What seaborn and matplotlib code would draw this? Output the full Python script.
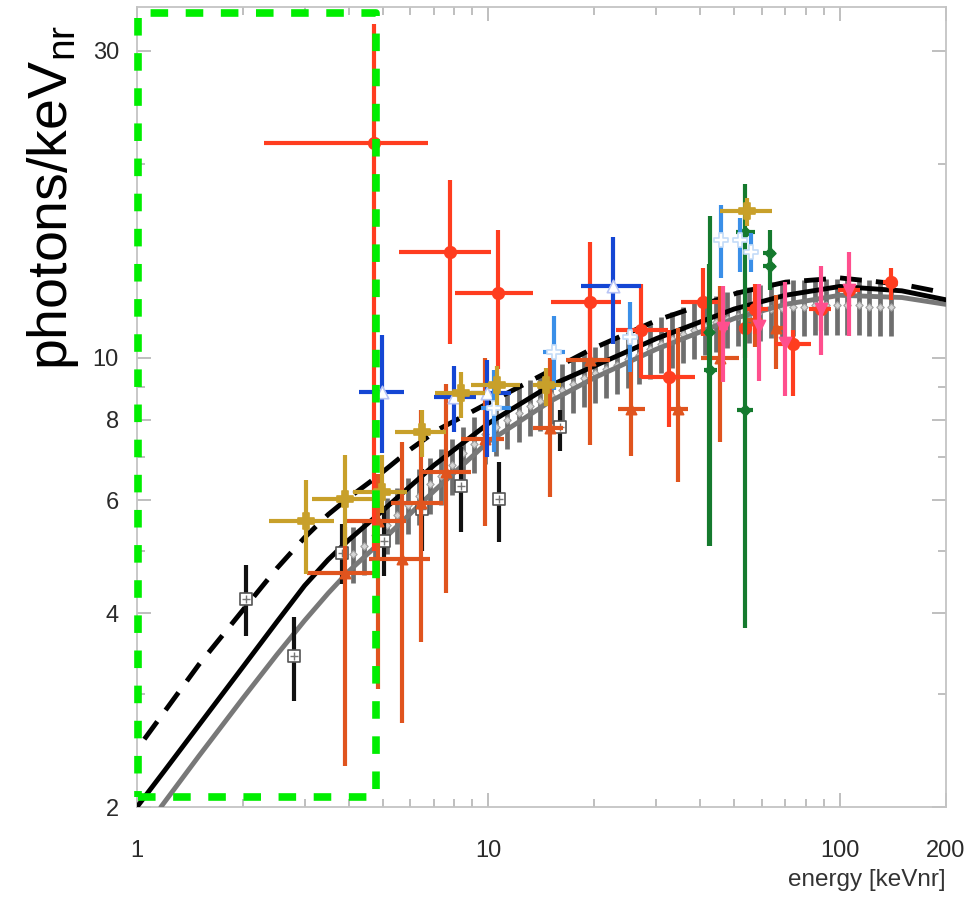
import numpy as np
import pandas as pd
import matplotlib
matplotlib.use("Agg")
import matplotlib.pyplot as plt
import seaborn as sns
from matplotlib.ticker import FixedLocator, FixedFormatter, NullFormatter

sns.set_theme(style="white")
plt.rcParams['font.family'] = ['Liberation Sans', 'DejaVu Sans']
plt.rcParams['mathtext.default'] = 'regular'

# model curves (energy, photons/keV)
solid_x = [1.0, 1.2, 1.5, 2.0, 2.5, 3.0, 3.5, 4.0, 5.0, 7.0, 10, 15, 20, 30, 50, 70, 100, 150, 200]
solid_y = [2.0, 2.28, 2.68, 3.3, 3.88, 4.42, 4.85, 5.2, 5.78, 6.8, 7.9, 9.05, 9.7, 10.7, 11.9, 12.5, 12.9, 12.7, 12.3]
dashed_x = [1.05, 1.5, 2.04, 2.5, 3.0, 3.5, 4.0, 4.77, 6.0, 7.2, 10, 12.7, 19.6, 30.4, 51, 70, 100, 150, 200]
dashed_y = [2.55, 3.33, 4.1, 4.7, 5.25, 5.7, 6.05, 6.5, 7.2, 7.73, 8.5, 9.1, 10.3, 11.45, 12.6, 13.1, 13.3, 13.0, 12.6]
grey_x = [1.17, 1.5, 2.0, 2.5, 3.0, 3.5, 4.0, 5.0, 7.0, 10, 15, 20, 30, 50, 70, 100, 150, 200]
grey_y = [2.0, 2.4, 2.95, 3.45, 3.9, 4.3, 4.65, 5.2, 6.2, 7.4, 8.55, 9.3, 10.3, 11.5, 12.1, 12.5, 12.4, 12.1]

# simulated band (grey comb)
band_x = [4.13, 4.44, 4.77, 5.13, 5.51, 5.92, 6.36, 6.84, 7.35, 7.90,
          8.49, 9.12, 9.80, 10.5, 11.3, 12.2, 13.1, 14.0, 15.1, 16.2,
          17.4, 18.7, 20.1, 21.6, 23.2, 25.0, 26.8, 28.8, 31.0, 33.3,
          35.8, 38.4, 41.3, 44.4, 47.7, 51.2, 55.0, 59.2, 63.6, 68.3,
          73.4, 78.9, 84.8, 91.1, 97.9, 105, 113, 121, 130, 140]
band_y = [4.95, 5.1, 5.3, 5.5, 5.7, 5.9, 6.1, 6.35, 6.55, 6.8,
          7.1, 7.35, 7.6, 7.8, 8.0, 8.2, 8.4, 8.55, 8.75, 8.9,
          9.1, 9.3, 9.45, 9.6, 9.75, 9.95, 10.1, 10.3, 10.5, 10.7,
          10.9, 11.05, 11.2, 11.35, 11.5, 11.6, 11.7, 11.8, 11.9, 11.95,
          12.0, 12.0, 12.05, 12.05, 12.05, 12.05, 12.05, 12.0, 12.0, 12.0]
band_rel_err = 0.10

# measurements: (x, y, x_lo, x_hi, y_lo, y_hi)
red_pts = [
    (4.74, 21.6, 2.3, 6.75, 5.0, 33.0),
    (7.8, 14.6, 5.55, 10.2, 10.5, 18.9),
    (10.66, 12.6, 8.05, 13.4, 9.6, 15.8),
    (19.5, 12.2, 15.1, 23.9, 10.0, 15.1),
    (27.1, 11.05, 23.1, 32.5, 9.3, 13.0),
    (32.7, 9.34, 27.1, 38.7, 7.8, 11.05),
    (40.8, 12.2, 35.3, 45.0, 10.8, 13.8),
    (53.7, 11.1, 51.5, 56.0, 10.0, 12.0),
    (57.5, 11.9, 53.7, 62.3, 10.9, 13.0),
    (73.5, 10.5, 65.4, 82.6, 8.7, 11.05),
    (88.5, 11.9, 81.5, 94.5, 11.0, 12.8),
    (106, 12.75, 99, 114, 12.0, 13.5),
    (139.6, 13.1, 133, 145, 12.3, 13.8),
]
orange_pts = [
    (3.9, 4.63, 3.04, 4.86, 2.32, 5.45),
    (4.85, 5.56, 3.95, 5.84, 3.05, 6.6),
    (5.66, 4.86, 4.56, 6.83, 2.7, 7.38),
    (6.42, 5.95, 5.27, 7.44, 3.61, 8.3),
    (7.55, 6.65, 6.42, 8.9, 4.3, 9.1),
    (9.76, 7.46, 8.35, 11.1, 5.47, 10.0),
    (15.0, 7.78, 13.4, 16.3, 6.06, 10.0),
    (19.5, 9.93, 16.6, 22.2, 7.3, 12.2),
    (25.5, 8.33, 23.4, 27.9, 7.02, 9.93),
    (34.6, 8.33, 32.5, 36.9, 6.4, 11.1),
    (45.6, 10.0, 40.2, 51.5, 7.4, 12.9),
    (57.3, 11.45, 54.5, 60.0, 10.4, 12.4),
    (65.7, 11.1, 64.5, 69.0, 9.6, 12.5),
]
blue_pts = [
    (4.97, 8.85, 4.27, 5.74, 7.1, 10.85),
    (7.96, 8.67, 7.0, 9.2, 7.65, 9.7),
    (9.93, 8.82, 8.95, 11.6, 7.0, 9.93),
    (22.6, 12.9, 18.3, 27.1, 10.5, 15.4),
]
lightblue_pts = [
    (10.34, 8.36, 9.5, 11.6, 7.12, 9.58),
    (15.37, 10.2, 14.3, 16.5, 8.9, 11.6),
    (25.3, 10.78, 24.5, 26.1, 9.48, 12.2),
    (45.9, 15.26, 45.0, 46.8, 13.3, 17.3),
    (52.0, 15.26, 51.0, 53.0, 13.6, 16.5),
    (55.9, 14.6, 55.0, 56.8, 13.6, 15.6),
]
gold_pts = [
    (3.02, 5.56, 2.37, 3.63, 4.6, 6.46),
    (3.9, 6.02, 3.14, 4.65, 5.1, 7.06),
    (4.97, 6.19, 4.13, 5.85, 5.74, 7.06),
    (6.46, 7.65, 5.44, 7.55, 7.0, 8.3),
    (8.37, 8.82, 7.07, 9.8, 8.06, 9.5),
    (10.6, 9.08, 8.95, 12.3, 8.45, 9.7),
    (14.6, 9.08, 13.4, 16.1, 8.4, 9.65),
    (54.3, 16.9, 45.6, 64.1, 16.0, 17.7),
]
black_pts = [
    (2.04, 4.22, 1.98, 2.1, 3.69, 4.76),
    (2.79, 3.43, 2.79, 2.79, 2.92, 3.95),
    (3.82, 4.96, 3.82, 3.82, 4.44, 5.51),
    (5.03, 5.18, 5.03, 5.03, 4.57, 5.85),
    (6.46, 5.81, 6.46, 6.46, 5.0, 6.7),
    (8.34, 6.31, 8.34, 8.34, 5.35, 7.25),
    (10.7, 6.02, 10.7, 10.7, 5.16, 6.87),
    (16.0, 7.81, 16.0, 16.0, 7.15, 8.3),
]
green_pts = [
    (42.8, 9.55, 41.0, 44.6, 5.1, 16.6),
    (42.5, 10.97, 41.5, 43.6, 5.1, 14.0),
    (53.7, 8.3, 51.0, 56.5, 3.8, 12.0),
    (53.7, 15.7, 50.7, 57.2, 11.0, 18.6),
    (63.1, 14.55, 60.5, 65.5, 13.6, 15.8),
    (63.1, 13.9, 60.5, 65.5, 12.75, 14.8),
]
pink_pts = [
    (46.5, 11.1, 45.3, 48.0, 9.15, 12.9),
    (59.0, 11.2, 58.0, 60.0, 9.2, 13.0),
    (69.6, 10.55, 68.5, 70.8, 8.7, 13.1),
    (88.5, 11.9, 86.5, 90.5, 10.1, 13.9),
    (106, 12.75, 104, 108, 10.8, 14.6),
]

# region of interest box
roi_x = [1.01, 4.8]
roi_y = [2.07, 34.3]

cols = ['x', 'y', 'xlo', 'xhi', 'ylo', 'yhi']


def draw_points(ax, pts, color, marker, size, face, edge, z):
    df = pd.DataFrame(pts, columns=cols)
    ax.errorbar(df.x, df.y,
                xerr=[df.x - df.xlo, df.xhi - df.x],
                yerr=[df.y - df.ylo, df.yhi - df.y],
                fmt='none', ecolor=color, elinewidth=3, capsize=0, zorder=z)
    sns.scatterplot(data=df, x='x', y='y', marker=marker, s=size,
                    color=face, edgecolor=edge, linewidth=1.2,
                    ax=ax, zorder=z + 0.1, legend=False)
    return df


fig = plt.figure(figsize=(9.71, 9.0), dpi=100)
ax = fig.add_axes([0.141, 0.1033, 0.833, 0.889])
ax.set_xscale('log')
ax.set_yscale('log')

# grey simulated comb
band = pd.DataFrame({'x': band_x, 'y': band_y})
ax.errorbar(band.x, band.y, yerr=[band.y * band_rel_err, band.y * band_rel_err],
            fmt='none', ecolor='#6e6e6e', elinewidth=3.4, capsize=0, zorder=2)
sns.scatterplot(data=band, x='x', y='y', marker='D', s=14, color='#d4d4d4',
                edgecolor='#a0a0a0', linewidth=0.8, ax=ax, zorder=2.1, legend=False)

# model curves
sns.lineplot(x=grey_x, y=grey_y, ax=ax, color='#787878', lw=3.5, sort=False, zorder=3)
sns.lineplot(x=solid_x, y=solid_y, ax=ax, color='black', lw=3.5, sort=False, zorder=3.2)
l, = ax.plot(dashed_x, dashed_y, color='black', lw=3.5, zorder=3.3)
l.set_dashes((4.5, 2.9))

draw_points(ax, black_pts, '#111111', 's', 70, 'white', '#555555', 4)
bdf = pd.DataFrame(black_pts, columns=cols)
sns.scatterplot(data=bdf, x='x', y='y', marker='+', s=40, color='#777777',
                linewidth=1, ax=ax, zorder=4.2, legend=False)
draw_points(ax, orange_pts, '#e0541e', '^', 55, '#e0541e', '#e0541e', 4.5)
draw_points(ax, red_pts, '#ff3d1f', 'o', 70, '#ff3d1f', '#ff3d1f', 5)
draw_points(ax, green_pts, '#157a2e', 'D', 30, '#157a2e', '#157a2e', 5.2)
draw_points(ax, pink_pts, '#ff4f8e', 'v', 75, '#ff4f8e', '#ff4f8e', 5.4)
draw_points(ax, blue_pts, '#1446d4', '^', 80, 'white', '#b8c4f4', 5.6)
draw_points(ax, lightblue_pts, '#3a8fe8', 'P', 110, 'white', '#c4dcf8', 5.8)
draw_points(ax, gold_pts, '#c8a02a', 'P', 130, '#c8a02a', '#c8a02a', 6)

# green dashed box
box, = ax.plot([roi_x[0], roi_x[1], roi_x[1], roi_x[0], roi_x[0]],
               [roi_y[0], roi_y[0], roi_y[1], roi_y[1], roi_y[0]],
               color='#00ee00', lw=5.5, zorder=10, clip_on=False)
box.set_dashes((2.3, 2.3))

ax.set_xlim(1, 200)
ax.set_ylim(2, 35.1)

for s in ax.spines.values():
    s.set_color('#c4c4c4')
    s.set_linewidth(1.3)

ax.xaxis.set_major_locator(FixedLocator([1, 10, 100, 200]))
ax.xaxis.set_major_formatter(FixedFormatter(['1', '10', '100', '200']))
ax.xaxis.set_minor_locator(FixedLocator([2, 3, 4, 5, 6, 7, 8, 9, 20, 30, 40, 50, 60, 70, 80, 90]))
ax.xaxis.set_minor_formatter(NullFormatter())
ax.yaxis.set_major_locator(FixedLocator([2, 4, 6, 8, 10, 30]))
ax.yaxis.set_major_formatter(FixedFormatter(['2', '4', '6', '8', '10', '30']))
ax.yaxis.set_minor_locator(FixedLocator([3, 5, 7, 9, 20]))
ax.yaxis.set_minor_formatter(NullFormatter())

ax.tick_params(which='both', direction='in', top=True, right=True,
               bottom=True, left=True, color='#b4b4b4', width=1.2)
ax.tick_params(which='major', length=10)
ax.tick_params(which='minor', length=6)
ax.tick_params(axis='x', which='major', pad=24, labelsize=17, labelcolor='#2a2a2a')
ax.tick_params(axis='y', which='major', pad=13, labelsize=17, labelcolor='#2a2a2a')

ax.set_xlabel('energy [keVnr]', loc='right', fontsize=17.5, color='#333333', labelpad=5)
ax.set_ylabel('')
fig.text(0.0546, 0.781, 'photons/keV$_{nr}$', rotation=90, ha='center', va='center',
         fontsize=40, color='black')

fig.savefig('out.png', dpi=100)
